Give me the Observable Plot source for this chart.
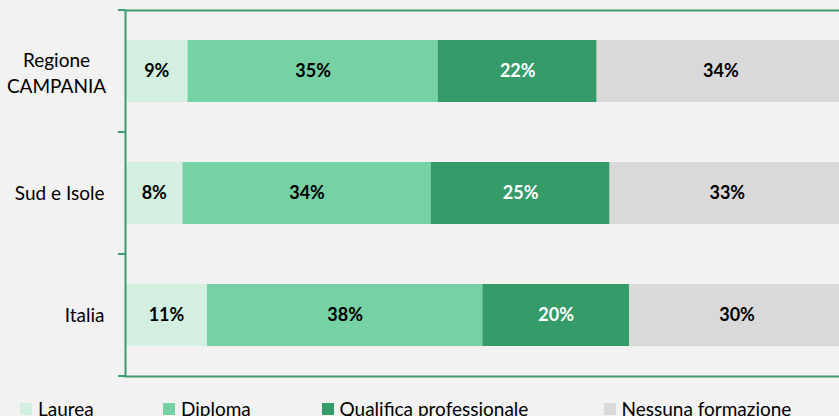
<!DOCTYPE html>
<html>
<head>
<meta charset="utf-8">
<script src="https://cdn.jsdelivr.net/npm/d3@7"></script>
<script src="https://cdn.jsdelivr.net/npm/@observablehq/plot@0.6"></script>
<style>
  html, body { margin: 0; padding: 0; background: #f2f2f2; overflow: hidden; }
  body { position: relative; width: 839px; height: 416px; font-family: Lato, "Open Sans", sans-serif; }
  #chart { width: 844px; }
  #chart svg { display: block; max-width: none !important; }
  #legend { position: absolute; left: 0; top: 399px; width: 839px; height: 30px; }
  .item { position: absolute; top: 0; display: flex; align-items: flex-start; font-size: 19px; line-height: 19px; color: #000; white-space: nowrap; }
  .sw { width: 12px; height: 12px; margin-top: 4px; margin-right: 6px; }
</style>
</head>
<body>
<div id="chart"></div>
<div id="legend"></div>
<script>
const regions = ["Regione CAMPANIA", "Sud e Isole", "Italia"];
const categories = ["Laurea", "Diploma", "Qualifica professionale", "Nessuna formazione"];
const colors = ["#d3efe0", "#76d1a5", "#359b69", "#d9d9d9"];
// percentage values per region, in category order
const campania = [8.7, 34.8, 22.1, 34.4];
const sudIsole = [8.0, 34.5, 24.9, 32.6];
const italia = [11.4, 38.3, 20.4, 29.9];
// labels printed on the bars
const campaniaLabels = ["9%", "35%", "22%", "34%"];
const sudIsoleLabels = ["8%", "34%", "25%", "33%"];
const italiaLabels = ["11%", "38%", "20%", "30%"];
const regionLabels = ["Regione\nCAMPANIA", "Sud e Isole", "Italia"];

const series = [campania, sudIsole, italia];
const seriesLabels = [campaniaLabels, sudIsoleLabels, italiaLabels];
const data = [];
regions.forEach((r, i) => categories.forEach((c, j) => data.push({region: r, category: c, value: series[i][j], label: seriesLabels[i][j]})));
const regionRows = regions.map((r, i) => ({region: r, text: regionLabels[i]}));

const green = "#3d9e6d";
const isDark = d => d.category === "Qualifica professionale";
const chart = Plot.plot({
  width: 844,
  height: 386,
  marginLeft: 125,
  marginRight: 0,
  marginTop: 10,
  marginBottom: 10,
  style: {background: "#f2f2f2", fontFamily: "Lato, 'Open Sans', sans-serif", maxWidth: "none"},
  x: {domain: [0, 100], axis: null},
  y: {domain: regions, axis: null, paddingInner: 0.49, paddingOuter: 0.245},
  color: {domain: categories, range: colors},
  marks: [
    Plot.barX(data, Plot.stackX({x: "value", y: "region", fill: "category", z: "category"})),
    Plot.text(data, Plot.filter(d => !isDark(d), Plot.stackX({x: "value", y: "region", z: "category", text: "label",
      fill: "#000", fontSize: 18, fontWeight: "bold"}))),
    Plot.text(data, Plot.filter(isDark, Plot.stackX({x: "value", y: "region", z: "category", text: "label",
      fill: "#fff", fontSize: 18, fontWeight: "bold"}))),
    Plot.text(regionRows.filter(d => !d.text.includes("\n")), {y: "region", text: "text", frameAnchor: "left", dx: -21, textAnchor: "end", fontSize: 19, fill: "#000"}),
    Plot.text(regionRows.filter(d => d.text.includes("\n")), {y: "region", text: "text", frameAnchor: "left", dx: -69, textAnchor: "middle", lineHeight: 1.37, fontSize: 19, fill: "#000"}),
    Plot.frame({stroke: green, strokeWidth: 2})
  ]
});
document.getElementById("chart").appendChild(chart);

// tick marks at band boundaries on the left axis
const ys = chart.scale("y");
const step = ys.step, bw = ys.bandwidth;
const bounds = regions.map(r => ys.apply(r) - (step - bw) / 2);
bounds.push(bounds[bounds.length - 1] + step);
const x0 = chart.scale("x").apply(0);
d3.select(chart).append("g")
  .selectAll("line").data(bounds).join("line")
  .attr("x1", x0 - 7).attr("x2", x0)
  .attr("y1", d => d).attr("y2", d => d)
  .attr("stroke", green).attr("stroke-width", 2);

// legend
const legendLeft = [20, 163, 321.5, 603.5];
const legend = d3.select("#legend");
categories.forEach((c, i) => {
  const it = legend.append("div").attr("class", "item").style("left", legendLeft[i] + "px");
  it.append("div").attr("class", "sw").style("background", colors[i]);
  it.append("span").text(c);
});
</script>
</body>
</html>
